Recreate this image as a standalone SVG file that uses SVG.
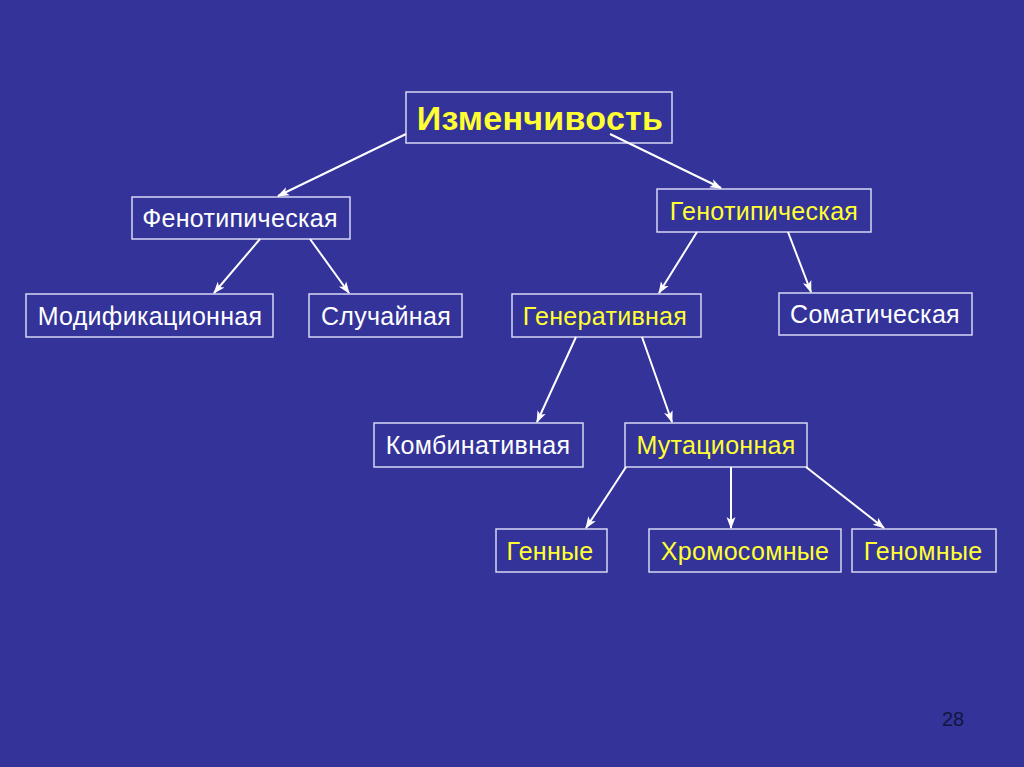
<svg xmlns="http://www.w3.org/2000/svg" width="1024" height="767" viewBox="0 0 1024 767">
<defs>
<marker id="ah" markerWidth="12" markerHeight="12" refX="11" refY="6" orient="auto" markerUnits="userSpaceOnUse">
<path d="M0,1.5 L12,6 L0,10.5 L3,6 Z" fill="#ffffff"/>
</marker>
<style>
.box{fill:#333399;stroke:#d6d6f5;stroke-width:1.5}
.t{font-family:"Liberation Sans",Arial,sans-serif;font-size:25px;letter-spacing:0.3px;text-anchor:middle}
.w{fill:#ffffff}
.y{fill:#ffff33}
.c{stroke:#ffffff;stroke-width:2;fill:none;marker-end:url(#ah)}
</style>
</defs>
<rect width="1024" height="767" fill="#333399"/>
<g id="n-izm"><rect class="box" x="406" y="92" width="266" height="51"/><text class="y" x="540" y="130" font-family="Liberation Sans,Arial,sans-serif" font-size="34" letter-spacing="0.3" font-weight="bold" text-anchor="middle">Изменчивость</text></g>
<g id="n-fen"><rect class="box" x="132" y="197" width="218" height="42"/><text class="t w" x="240" y="227">Фенотипическая</text></g>
<g id="n-gen"><rect class="box" x="657" y="189" width="214" height="43"/><text class="t y" x="764" y="220">Генотипическая</text></g>
<g id="n-mod"><rect class="box" x="26" y="294" width="247" height="43"/><text class="t w" x="150" y="325">Модификационная</text></g>
<g id="n-slu"><rect class="box" x="309" y="294" width="153" height="43"/><text class="t w" x="386" y="325">Случайная</text></g>
<g id="n-gnr"><rect class="box" x="512" y="294" width="189" height="43"/><text class="t y" x="605" y="325">Генеративная</text></g>
<g id="n-som"><rect class="box" x="779" y="293" width="193" height="42"/><text class="t w" x="875" y="323">Соматическая</text></g>
<g id="n-kom"><rect class="box" x="374" y="423" width="209" height="44"/><text class="t w" x="478" y="454">Комбинативная</text></g>
<g id="n-mut"><rect class="box" x="625" y="423" width="182" height="44"/><text class="t y" x="716" y="454">Мутационная</text></g>
<g id="n-gny"><rect class="box" x="496" y="529" width="111" height="43"/><text class="t y" x="550" y="560">Генные</text></g>
<g id="n-hro"><rect class="box" x="649" y="529" width="192" height="43"/><text class="t y" x="745" y="560">Хромосомные</text></g>
<g id="n-gnm"><rect class="box" x="852" y="529" width="144" height="43"/><text class="t y" x="923" y="560">Геномные</text></g>
<g id="connectors">
<line class="c" x1="406" y1="134" x2="278" y2="196"/>
<line class="c" x1="610" y1="134" x2="721" y2="188"/>
<line class="c" x1="260" y1="239" x2="214" y2="293"/>
<line class="c" x1="310" y1="239" x2="349" y2="293"/>
<line class="c" x1="697" y1="232" x2="659" y2="293"/>
<line class="c" x1="788" y1="232" x2="811" y2="292"/>
<line class="c" x1="576" y1="337" x2="537" y2="422"/>
<line class="c" x1="642" y1="337" x2="672" y2="422"/>
<line class="c" x1="626" y1="467" x2="586" y2="528"/>
<line class="c" x1="731" y1="467" x2="731" y2="528"/>
<line class="c" x1="806" y1="467" x2="884" y2="528"/>
</g>
<text x="953" y="726" font-family="Liberation Sans,Arial,sans-serif" font-size="20" fill="#14143d" text-anchor="middle">28</text>
</svg>
